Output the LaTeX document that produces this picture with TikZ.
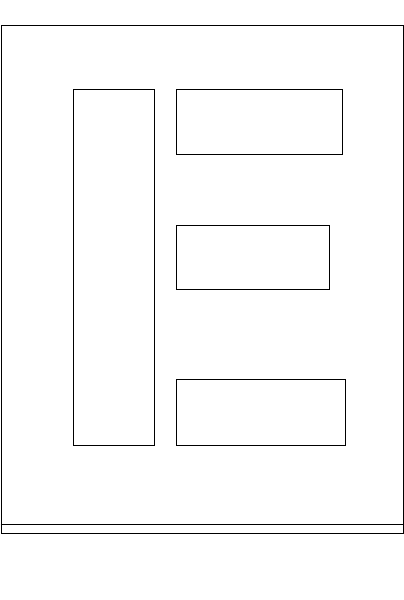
\documentclass[tikz,border=0pt]{standalone}
\usetikzlibrary{positioning}

\begin{document}
\begin{tikzpicture}
[x=1pt, y=-1pt,
    panel/.style={draw, line width=0.8pt, inner sep=0pt, anchor=north west},
    frame/.style={draw, line width=0.8pt}]
\useasboundingbox (0,0) rectangle (404,600);
\node [panel, minimum width=402pt, minimum height=508.5pt] (page) at (0.6,24.5) {};
\coordinate (strip west) at (0.6,524.5);
\coordinate (strip east) at (402.6,524.5);
\draw [frame] (strip west) -- (strip east);
\node [panel, minimum width=80.5pt, minimum height=355.5pt] (sidebar) at (73,89.3) {};
\node [panel, minimum width=165.5pt, minimum height=64.7pt] (top box) at (176,89.3) {};
\node [panel, minimum width=153pt, minimum height=63.4pt] (middle box) at (176,225.3) {};
\node [panel, minimum width=169pt, minimum height=65.4pt] (bottom box) at (176,379.3) {};
\end{tikzpicture}
\end{document}
